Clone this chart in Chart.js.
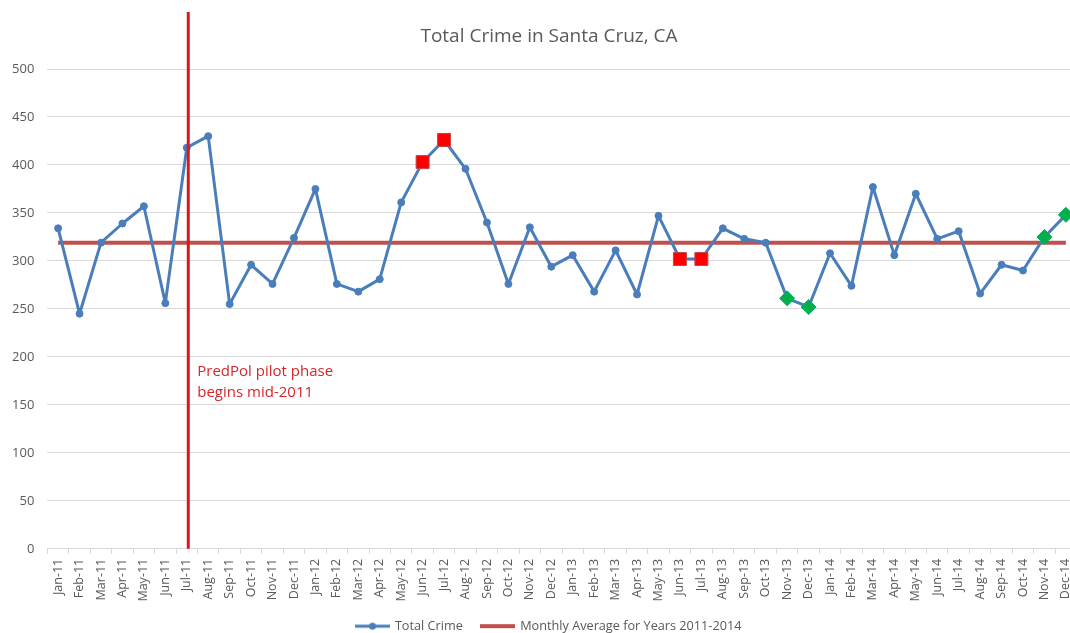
<!DOCTYPE html>
<html>
<head>
<meta charset="utf-8">
<script src="https://cdn.jsdelivr.net/npm/chart.js@4.4.1/dist/chart.umd.min.js"></script>
<style>
  html, body { margin: 0; padding: 0; background: #fff; overflow: hidden; }
  #wrap { width: 1098px; height: 633px; }
</style>
</head>
<body>
<div id="wrap"><canvas id="crimeChart" width="1098" height="633"></canvas></div>
<script>
// Data
const months = [
  'Jan-11', 'Feb-11', 'Mar-11', 'Apr-11', 'May-11', 'Jun-11', 'Jul-11', 'Aug-11', 'Sep-11', 'Oct-11', 'Nov-11', 'Dec-11',
  'Jan-12', 'Feb-12', 'Mar-12', 'Apr-12', 'May-12', 'Jun-12', 'Jul-12', 'Aug-12', 'Sep-12', 'Oct-12', 'Nov-12', 'Dec-12',
  'Jan-13', 'Feb-13', 'Mar-13', 'Apr-13', 'May-13', 'Jun-13', 'Jul-13', 'Aug-13', 'Sep-13', 'Oct-13', 'Nov-13', 'Dec-13',
  'Jan-14', 'Feb-14', 'Mar-14', 'Apr-14', 'May-14', 'Jun-14', 'Jul-14', 'Aug-14', 'Sep-14', 'Oct-14', 'Nov-14', 'Dec-14'
];
const totalCrime = [
  334, 245, 319, 339, 357, 256, 418, 430, 255, 296, 276, 324,
  375, 276, 268, 281, 361, 403, 426, 396, 340, 276, 335, 294,
  306, 268, 311, 265, 347, 302, 302, 334, 323, 319, 261, 252,
  308, 274, 377, 306, 370, 323, 331, 266, 296, 290, 325, 348
];
const monthlyAverage = 319;
const highMonths = ['Jun-12', 'Jul-12', 'Jun-13', 'Jul-13'];
const lowMonths = ['Nov-13', 'Dec-13', 'Nov-14', 'Dec-14'];
const yMin = 0;
const yMax = 500;
const yStep = 50;
const pilotMonth = 'Jul-11';
const pilotNote = ['PredPol pilot phase', 'begins mid-2011'];
const pilotNoteValue = 184;

const FONT = '"Open Sans", sans-serif';
const GREY = '#595959';
const BLUE = '#4a7ebb';
const AVG_RED = '#c0504d';

// legend swatches: line with marker, plain line
function makeSwatch(color, width, dot) {
  const c = document.createElement('canvas');
  c.width = 35;
  c.height = 10;
  const g = c.getContext('2d');
  g.strokeStyle = color;
  g.lineWidth = width;
  g.beginPath();
  g.moveTo(0, 5);
  g.lineTo(35, 5);
  g.stroke();
  if (dot) {
    g.fillStyle = color;
    g.beginPath();
    g.arc(17.5, 5, 3.5, 0, Math.PI * 2);
    g.fill();
  }
  return c;
}
const legendSwatches = [makeSwatch(BLUE, 3, true), makeSwatch(AVG_RED, 4, false)];

// vertical red marker for the pilot start, with its note
const pilotLinePlugin = {
  id: 'pilotLine',
  afterDatasetsDraw(chart) {
    const { ctx, chartArea, scales: { x, y } } = chart;
    const px = x.getPixelForValue(months.indexOf(pilotMonth)) + 1.5;
    ctx.save();
    ctx.strokeStyle = '#d9181e';
    ctx.lineWidth = 3;
    ctx.beginPath();
    ctx.moveTo(px, chartArea.top - 57);
    ctx.lineTo(px, chartArea.bottom);
    ctx.stroke();
    ctx.fillStyle = '#d6262b';
    ctx.font = '15px ' + FONT;
    ctx.textBaseline = 'middle';
    const ny = y.getPixelForValue(pilotNoteValue);
    pilotNote.forEach((line, i) => ctx.fillText(line, px + 9, ny + i * 21));
    ctx.restore();
  }
};

const markerType = (ctx) => {
  const m = months[ctx.dataIndex];
  if (highMonths.includes(m)) return 'high';
  if (lowMonths.includes(m)) return 'low';
  return 'normal';
};

new Chart(document.getElementById('crimeChart'), {
  type: 'line',
  data: {
    labels: months,
    datasets: [
      {
        label: 'Total Crime',
        data: totalCrime,
        borderColor: BLUE,
        borderWidth: 3,
        borderJoinStyle: 'round',
        tension: 0,
        pointStyle: (ctx) => ({ high: 'rect', low: 'rectRot', normal: 'circle' })[markerType(ctx)],
        pointRadius: (ctx) => ({ high: 9.2, low: 7.5, normal: 3.5 })[markerType(ctx)],
        pointBackgroundColor: (ctx) => ({ high: '#ff0000', low: '#00b050', normal: BLUE })[markerType(ctx)],
        pointBorderColor: (ctx) => ({ high: '#be4b48', low: '#00b050', normal: BLUE })[markerType(ctx)],
        pointBorderWidth: 1
      },
      {
        label: 'Monthly Average for Years 2011-2014',
        data: months.map(() => monthlyAverage),
        borderColor: AVG_RED,
        borderWidth: 4,
        pointRadius: 0
      }
    ]
  },
  options: {
    responsive: false,
    animation: false,
    layout: { padding: { top: 0, right: 0, left: 0, bottom: -9.5 } },
    plugins: {
      title: {
        display: true,
        text: 'Total Crime in Santa Cruz, CA',
        color: GREY,
        font: { family: FONT, size: 19, weight: 'normal' },
        padding: { top: 25.6, bottom: 20.6 }
      },
      legend: {
        position: 'bottom',
        labels: {
          usePointStyle: true,
          pointStyleWidth: 32,
          padding: 19,
          color: GREY,
          font: { family: FONT, size: 12.7 },
          generateLabels(chart) {
            const items = Chart.defaults.plugins.legend.labels.generateLabels(chart);
            items.forEach((item, i) => { item.pointStyle = legendSwatches[i]; });
            return items;
          }
        }
      },
      tooltip: { enabled: false }
    },
    scales: {
      x: {
        offset: true,
        afterFit: (s) => { s.height = 52; },
        grid: { drawOnChartArea: false, offset: true, tickLength: 5, color: '#d9d9d9' },
        border: { color: '#d9d9d9' },
        ticks: {
          autoSkip: false,
          minRotation: 90,
          maxRotation: 90,
          padding: 5,
          color: GREY,
          font: { family: FONT, size: 12.5 }
        }
      },
      y: {
        min: yMin,
        max: yMax,
        afterFit: (s) => { s.width = 47.4; },
        grid: { color: '#d9d9d9', drawTicks: false },
        border: { display: false },
        ticks: {
          stepSize: yStep,
          padding: 13,
          color: GREY,
          font: { family: FONT, size: 13 }
        }
      },
      yRight: {
        position: 'right',
        afterFit: (s) => { s.width = 21.4; },
        grid: { display: false },
        border: { display: false },
        ticks: { display: false }
      }
    }
  },
  plugins: [pilotLinePlugin]
});
</script>
</body>
</html>
